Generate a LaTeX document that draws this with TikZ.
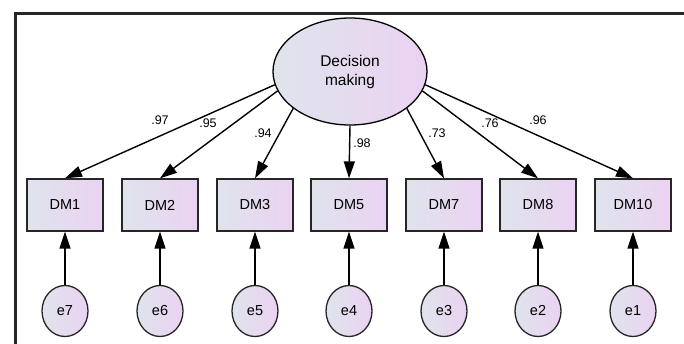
\documentclass[tikz,border=0pt]{standalone}
\usepackage{fontspec}
\setmainfont{Liberation Sans}
\usepackage{tikz}
\usetikzlibrary{arrows.meta,shapes.geometric}
\definecolor{dmgrey}{HTML}{DFE4EC}
\definecolor{dmpink}{HTML}{EBD2F2}
\definecolor{dmink}{HTML}{262626}
\tikzset{
  obsbox/.style={draw=dmink,line width=1.3pt,left color=dmgrey,right color=dmpink,
    minimum width=76pt,minimum height=52pt,inner sep=0pt,font=\fontsize{14.5}{16}\selectfont},
  errnode/.style={ellipse,draw=dmink,line width=1.3pt,left color=dmgrey,right color=dmpink,
    minimum width=46pt,minimum height=51pt,inner sep=0pt,font=\fontsize{14.5}{16}\selectfont},
  latent/.style={ellipse,draw=black,line width=1.3pt,left color=dmgrey,right color=dmpink,
    minimum width=154pt,minimum height=107pt,inner sep=0pt,align=center,
    font=\fontsize{15.5}{19}\selectfont},
  load/.style={line width=1.4pt,-{Triangle[length=17pt,width=11pt]}},
  wt/.style={inner sep=0pt,font=\fontsize{12.5}{14}\selectfont}
}

\begin{document}
\begin{tikzpicture}[x=1pt,y=-1pt]
\useasboundingbox (0,0) rectangle (684,343);
% frame
\draw[dmink,line width=3pt] (15,350) -- (15,13) -- (690,13);

\node[latent] (dm) at (350,71.5) {Decision\\making};

% indicators and their errors
\foreach \name/\x/\err in {DM1/65/e7,DM2/160/e6,DM3/255/e5,DM5/349/e4,
                           DM7/444/e3,DM8/538/e2,DM10/633/e1}{
  \node[obsbox] (\name) at (\x,205) {\name};
  \node[errnode] (\err) at (\x,311) {\err};
  \draw[load] (\err) -- (\name);
}

% standardized loadings
\foreach \name/\ang/\w/\lx/\ly in {DM1/190/.97/160/120,DM2/195/.95/208/123,
    DM3/213/.94/263/133,DM5/270/.98/362/143,DM7/327/.73/437/133,
    DM8/345/.76/490/123,DM10/350/.96/538/120}{
  \draw[load] (dm.\ang) -- (\name.north);
  \node[wt] (w\name) at (\lx,\ly) {\w};
}
\end{tikzpicture}
\end{document}
